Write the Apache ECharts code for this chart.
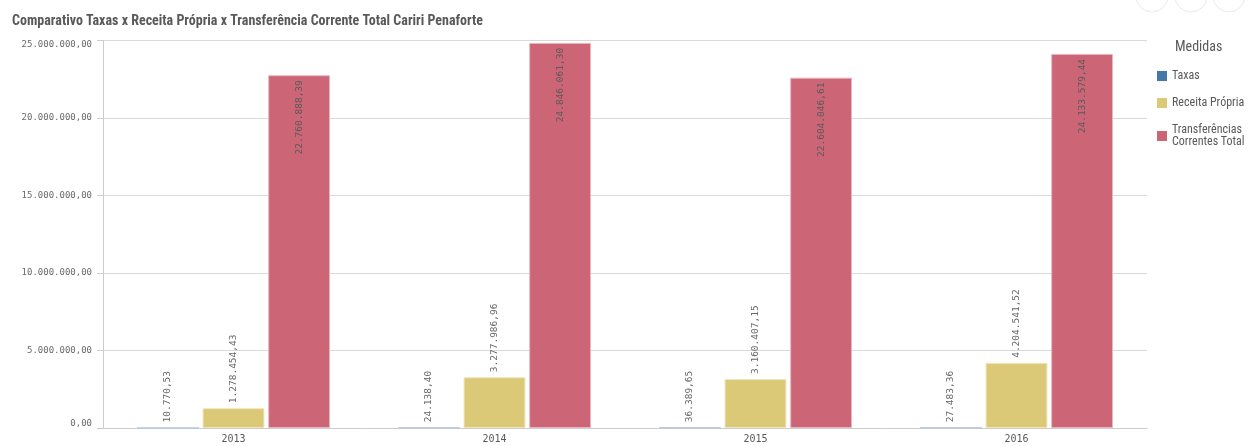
<!DOCTYPE html>
<html>
<head>
<meta charset="utf-8">
<script src="https://cdn.jsdelivr.net/npm/echarts@6/dist/echarts.min.js"></script>
<style>
html,body{margin:0;padding:0;background:#fff;}
#c{width:1254px;height:446px;}
</style>
</head>
<body>
<div id="c"></div>
<script>
const categories = ['2013', '2014', '2015', '2016'];
const taxas = [10770.53, 24138.40, 36389.65, 27483.36];
const receitaPropria = [1278454.43, 3277986.96, 3160407.15, 4204541.52];
const transferencias = [22760888.39, 24846061.30, 22604046.61, 24133579.44];
const yTicks = [0, 5000000, 10000000, 15000000, 20000000, 25000000];

const seriesNames = ['Taxas', 'Receita Própria', 'Transferências\nCorrentes Total'];
const colors = ['#4477aa', '#dbc978', '#cc6576'];

function fmt(v) {
  const parts = v.toFixed(2).split('.');
  parts[0] = parts[0].replace(/\B(?=(\d{3})+(?!\d))/g, '.');
  return parts[0] + ',' + parts[1];
}

const mono = 'DejaVu Sans Mono';
const narrow = '"Liberation Sans Narrow", "Roboto Condensed", "Noto Sans", sans-serif';

const outsideLabel = {
  show: true, position: 'top', rotate: 90, align: 'left', verticalAlign: 'middle',
  distance: 5, color: '#666', fontFamily: mono, fontSize: 9.5,
  formatter: p => fmt(p.value)
};
const insideLabel = {
  show: true, position: 'insideTop', rotate: 90, align: 'right', verticalAlign: 'middle',
  distance: 5, color: '#5a5a5a', fontFamily: mono, fontSize: 9.5,
  formatter: p => fmt(p.value)
};

const chart = echarts.init(document.getElementById('c'), null, {renderer: 'canvas'});
chart.setOption({
  animation: false,
  title: {
    text: 'Comparativo Taxas x Receita Própria x Transferência Corrente Total Cariri Penaforte',
    left: 7, top: 9,
    textStyle: {fontFamily: narrow, fontWeight: 'bold', fontSize: 14, color: '#595959'}
  },
  legend: {
    orient: 'vertical', left: 1152, top: 65, itemWidth: 10, itemHeight: 10, itemGap: 15,
    icon: 'rect',
    itemStyle: {borderWidth: 0},
    data: seriesNames,
    textStyle: {fontFamily: narrow, fontSize: 12, color: '#595959', lineHeight: 12}
  },
  graphic: [
    {type: 'text', left: 1175, top: 40, style: {text: 'Medidas', fontFamily: narrow, fontSize: 14, fill: '#595959'}},
    {type: 'circle', shape: {cx: 1152, cy: -4, r: 16}, style: {fill: 'none', stroke: '#e8e8e8', lineWidth: 1}},
    {type: 'circle', shape: {cx: 1191, cy: -4, r: 16}, style: {fill: 'none', stroke: '#e8e8e8', lineWidth: 1}},
    {type: 'circle', shape: {cx: 1229, cy: -4, r: 16}, style: {fill: 'none', stroke: '#e8e8e8', lineWidth: 1}}
  ],
  grid: {left: 103, right: 107, top: 40.5, bottom: 18, containLabel: false},
  xAxis: {
    type: 'category', data: categories,
    axisLine: {lineStyle: {color: '#cccccc'}},
    axisTick: {show: false},
    axisLabel: {color: '#595959', fontFamily: mono, fontSize: 10, margin: 6}
  },
  yAxis: {
    type: 'value', min: 0, max: 25000000, interval: 5000000,
    axisLine: {show: true, lineStyle: {color: '#cccccc'}},
    axisTick: {show: true, length: 6, lineStyle: {color: '#cccccc'}},
    splitLine: {lineStyle: {color: '#d9d9d9'}},
    axisLabel: {color: '#6a6a6a', fontFamily: mono, fontSize: 9, margin: 11,
      verticalAlignMinLabel: 'bottom', verticalAlignMaxLabel: 'top',
      formatter: v => yTicks.includes(v) ? fmt(v) : ''}
  },
  series: [
    {name: seriesNames[0], type: 'bar', data: taxas, itemStyle: {color: colors[0], borderColor: '#b9c9dd', borderWidth: 1},
      barGap: '6%', barCategoryGap: '26%', label: outsideLabel},
    {name: seriesNames[1], type: 'bar', data: receitaPropria, itemStyle: {color: colors[1], borderColor: '#f0e7c0', borderWidth: 1},
      label: outsideLabel},
    {name: seriesNames[2], type: 'bar', data: transferencias, itemStyle: {color: colors[2], borderColor: '#e8b8c0', borderWidth: 1},
      label: insideLabel}
  ]
});
</script>
</body>
</html>
